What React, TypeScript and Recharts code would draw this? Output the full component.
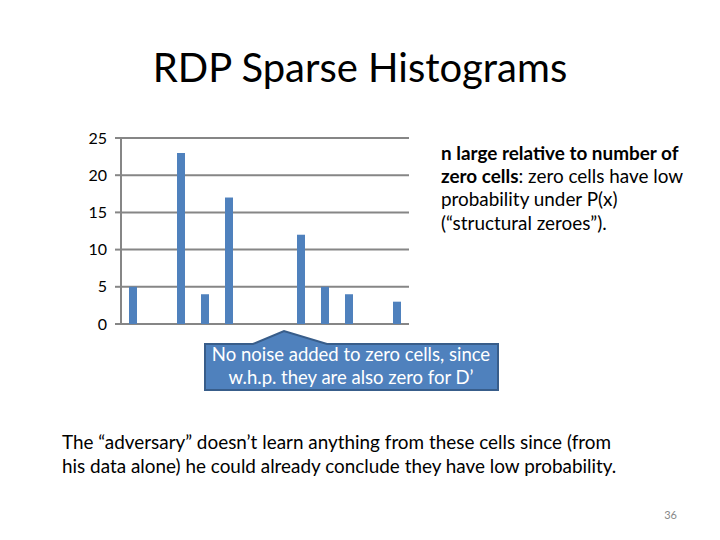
import { BarChart, Bar, XAxis, YAxis, CartesianGrid } from 'recharts';

const cells = ['1', '2', '3', '4', '5', '6', '7', '8', '9', '10', '11', '12'];
const counts = [5, 0, 23, 4, 17, 0, 0, 12, 5, 4, 0, 3];
const yTicks = [0, 5, 10, 15, 20, 25];

const data = cells.map((c, i) => ({ cell: c, count: counts[i] }));

const font = 'Lato, "Open Sans", sans-serif';

export default function App() {
  return (
    <div style={{ position: 'absolute', left: 0, top: 0, width: 720, height: 540, background: '#fff', fontFamily: font }}>
      <BarChart
        width={720}
        height={540}
        data={data}
        margin={{ top: 138, right: 311, bottom: 216, left: 81 }}
        barCategoryGap={0}
      >
        <CartesianGrid horizontal vertical={false} stroke="#868686" strokeWidth={2} />
        <XAxis dataKey="cell" hide />
        <YAxis
          domain={[0, 25]}
          ticks={yTicks}
          width={40}
          interval={0}
          axisLine={{ stroke: '#868686', strokeWidth: 2 }}
          tickLine={{ stroke: '#868686', strokeWidth: 2 }}
          tickSize={6}
          tick={{ fontSize: 16, fill: '#000', fontFamily: font, dx: -6 }}
        />
        <Bar dataKey="count" fill="#4f81bd" barSize={8} isAnimationActive={false} />
      </BarChart>
      <svg width={720} height={540} style={{ position: 'absolute', left: 0, top: 0, fontFamily: font }}>
        <text x={360} y={82} textAnchor="middle" fontSize={40} fill="#000">RDP Sparse Histograms</text>

        <text x={441} y={160} fontSize={18.9} fill="#000" fontWeight="bold">n large relative to number of</text>
        <text x={441} y={183} fontSize={18.9} fill="#000">
          <tspan fontWeight="bold">zero cells</tspan>: zero cells have low
        </text>
        <text x={441} y={206} fontSize={18.9} fill="#000">probability under P(x)</text>
        <text x={441} y={230} fontSize={18.9} fill="#000">(“structural zeroes”).</text>

        <path
          d="M205,344 L253,344 L284,331 L327,344 L498,344 L498,390 L205,390 Z"
          fill="#4f81bd"
          stroke="#385d8a"
          strokeWidth={2}
        />
        <text x={351} y={361} textAnchor="middle" fontSize={18.5} fill="#fff">No noise added to zero cells, since</text>
        <text x={351} y={384} textAnchor="middle" fontSize={18.5} fill="#fff">w.h.p. they are also zero for D’</text>

        <text x={62} y={449} fontSize={18.9} fill="#000">The “adversary” doesn’t learn anything from these cells since (from</text>
        <text x={62} y={473} fontSize={18.9} fill="#000">his data alone) he could already conclude they have low probability.</text>

        <text x={677} y={519} textAnchor="end" fontSize={11} fill="#888">36</text>
      </svg>
    </div>
  );
}
